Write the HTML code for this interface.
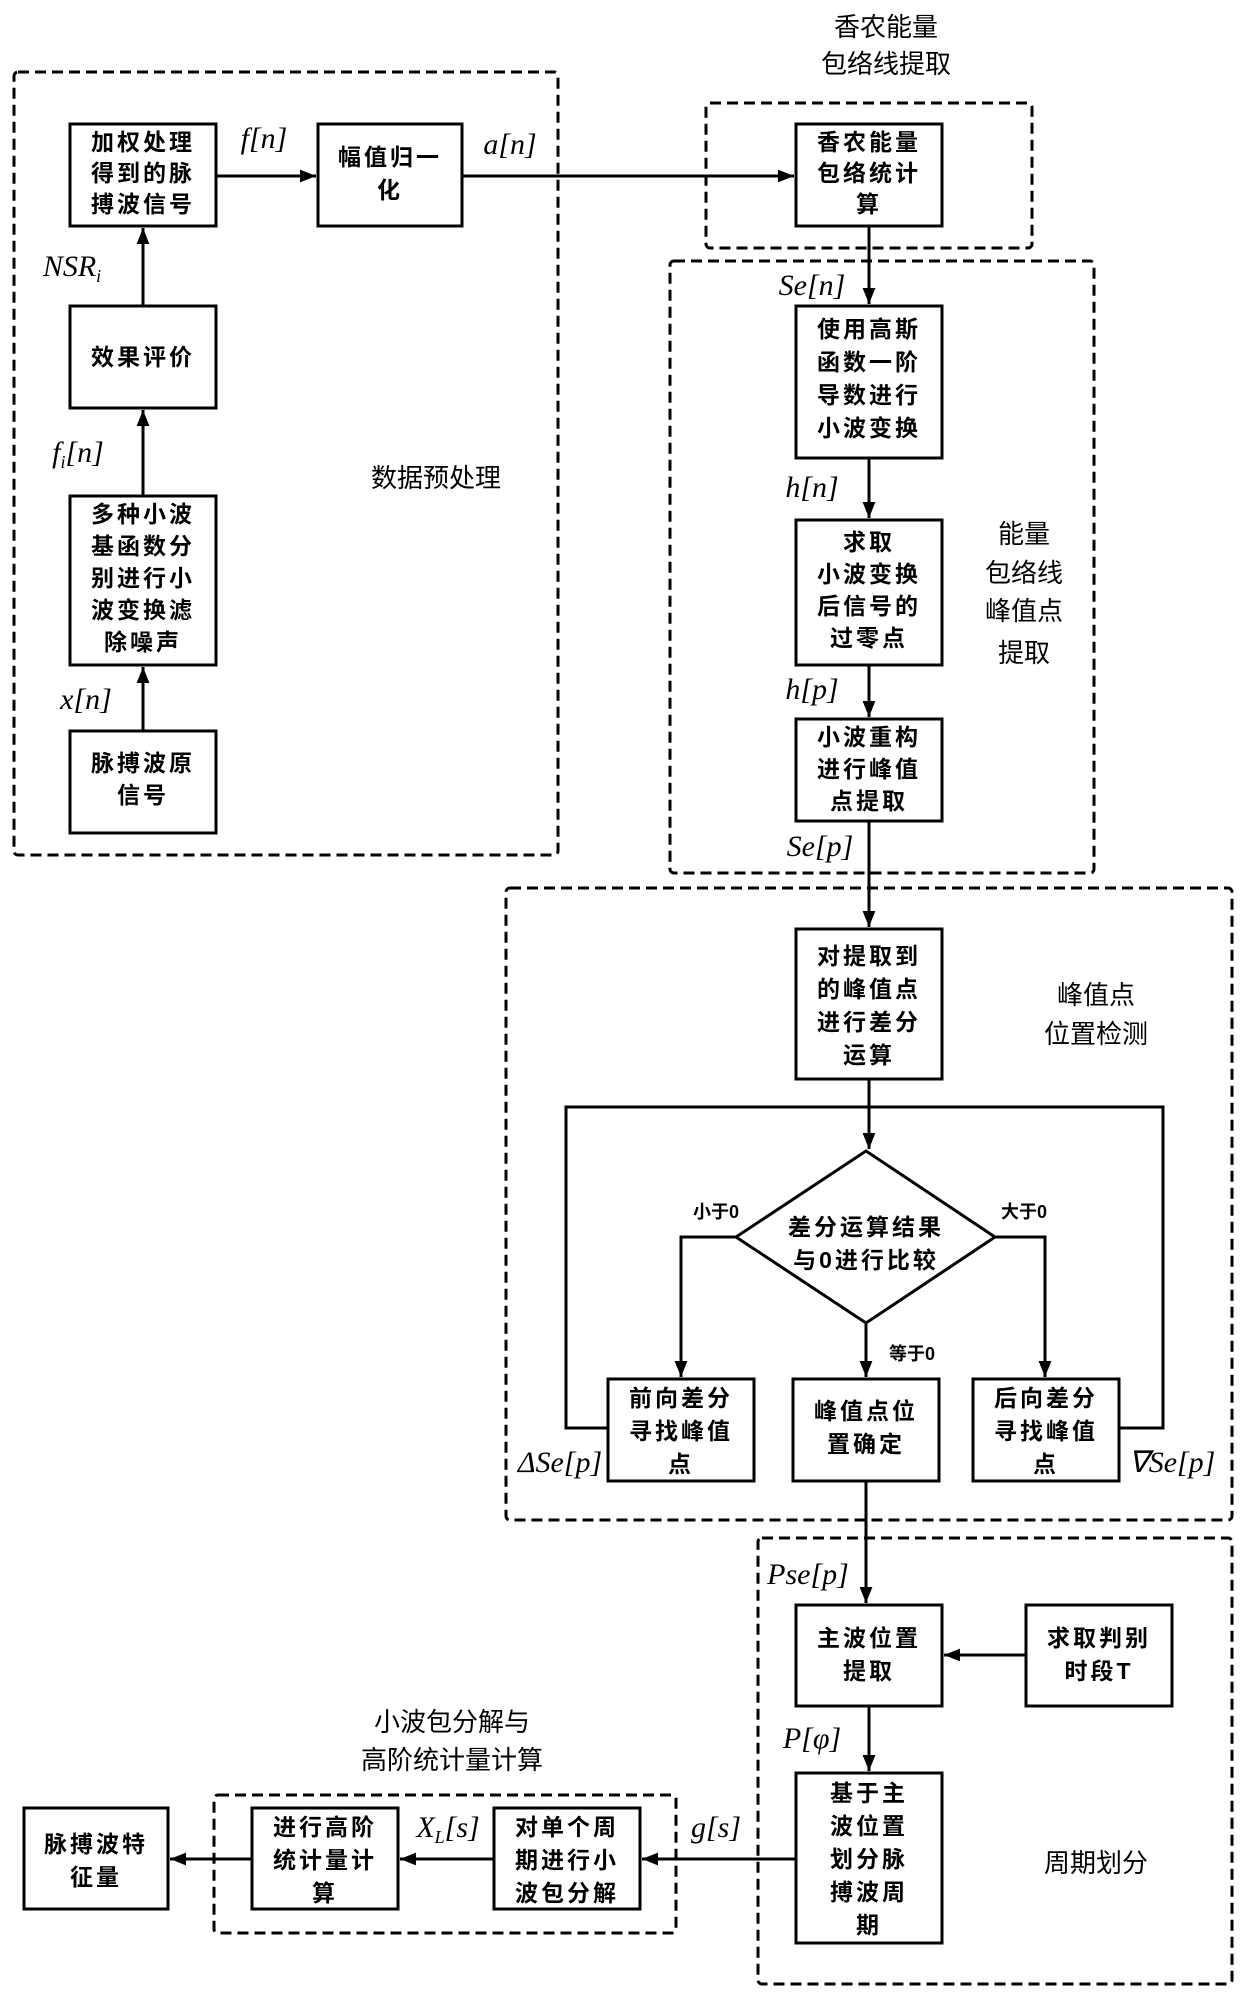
<!DOCTYPE html>
<html><head><meta charset="utf-8"><style>
html,body{margin:0;padding:0;background:#fff;}
svg{display:block;}
.b{font-family:"Liberation Sans","Noto Sans CJK SC",sans-serif;font-weight:bold;font-size:23px;letter-spacing:3px;fill:#000;text-anchor:middle;}
.t{font-family:"Liberation Sans","Noto Sans CJK SC",sans-serif;font-size:26px;fill:#000;text-anchor:middle;}
.s{font-family:"Liberation Sans","Noto Sans CJK SC",sans-serif;font-weight:bold;font-size:18px;fill:#000;text-anchor:middle;}
.m{font-family:"Liberation Serif",serif;font-style:italic;font-size:30px;fill:#000;text-anchor:middle;}
</style></head><body>
<svg width="1240" height="1994" viewBox="0 0 1240 1994" xmlns="http://www.w3.org/2000/svg">
<defs><marker id="a" viewBox="0 0 10 10" refX="10" refY="5" markerWidth="7" markerHeight="7" orient="auto" markerUnits="userSpaceOnUse"><path d="M0,0 L10,5 L0,10 z" fill="#000"/></marker>
<marker id="ar" viewBox="0 0 10 10" refX="10" refY="5" markerWidth="16" markerHeight="16" orient="auto" markerUnits="userSpaceOnUse"><path d="M0,1 L10,5 L0,9 z" fill="#000"/></marker></defs>
<g fill="none" stroke="#000" stroke-width="3" stroke-dasharray="11 6">
<rect x="14" y="72" width="544" height="783" rx="4"/>
<rect x="706" y="103" width="326" height="145" rx="4"/>
<rect x="670" y="261" width="424" height="612" rx="4"/>
<rect x="506" y="888" width="726" height="632" rx="4"/>
<rect x="758" y="1538" width="474" height="446" rx="4"/>
<rect x="214" y="1795" width="462" height="138" rx="4"/>
</g>
<g fill="#fff" stroke="#000" stroke-width="3">
<rect x="70" y="124" width="146" height="102"/>
<rect x="318" y="124" width="144" height="102"/>
<rect x="796" y="124" width="146" height="102"/>
<rect x="70" y="306" width="146" height="102"/>
<rect x="796" y="306" width="146" height="152"/>
<rect x="70" y="496" width="146" height="169"/>
<rect x="796" y="520" width="146" height="145"/>
<rect x="796" y="719" width="146" height="102"/>
<rect x="70" y="731" width="146" height="102"/>
<rect x="796" y="929" width="146" height="150"/>
<rect x="608" y="1379" width="146" height="102"/>
<rect x="793" y="1379" width="146" height="102"/>
<rect x="973" y="1379" width="146" height="102"/>
<rect x="796" y="1605" width="146" height="101"/>
<rect x="1026" y="1605" width="146" height="101"/>
<rect x="796" y="1773" width="146" height="170"/>
<rect x="494" y="1808" width="146" height="101"/>
<rect x="252" y="1808" width="146" height="101"/>
<rect x="24" y="1808" width="144" height="101"/>
<polygon points="866,1151 995,1237 866,1323 736,1237"/>
</g>
<g fill="none" stroke="#000" stroke-width="3">
<line x1="216" y1="176" x2="316" y2="176" marker-end="url(#ar)"/>
<line x1="462" y1="176" x2="794" y2="176" marker-end="url(#ar)"/>
<line x1="143" y1="306" x2="143" y2="228" marker-end="url(#ar)"/>
<line x1="143" y1="496" x2="143" y2="410" marker-end="url(#ar)"/>
<line x1="143" y1="731" x2="143" y2="667" marker-end="url(#ar)"/>
<line x1="869" y1="226" x2="869" y2="304" marker-end="url(#ar)"/>
<line x1="869" y1="458" x2="869" y2="518" marker-end="url(#ar)"/>
<line x1="869" y1="665" x2="869" y2="717" marker-end="url(#ar)"/>
<line x1="869" y1="821" x2="869" y2="927" marker-end="url(#ar)"/>
<line x1="869" y1="1079" x2="869" y2="1149" marker-end="url(#ar)"/>
<polyline points="608,1428 566,1428 566,1107 1163,1107 1163,1428 1119,1428"/>
<polyline points="736,1237 681,1237 681,1377" marker-end="url(#ar)"/>
<polyline points="995,1237 1045,1237 1045,1377" marker-end="url(#ar)"/>
<line x1="866" y1="1323" x2="866" y2="1377" marker-end="url(#ar)"/>
<line x1="866" y1="1481" x2="866" y2="1603" marker-end="url(#ar)"/>
<line x1="1026" y1="1655" x2="944" y2="1655" marker-end="url(#ar)"/>
<line x1="869" y1="1706" x2="869" y2="1771" marker-end="url(#ar)"/>
<line x1="796" y1="1859" x2="642" y2="1859" marker-end="url(#ar)"/>
<line x1="494" y1="1859" x2="400" y2="1859" marker-end="url(#ar)"/>
<line x1="252" y1="1859" x2="170" y2="1859" marker-end="url(#ar)"/>
</g>
<!-- box texts -->
<g class="b">
<text x="143" y="150">加权处理</text><text x="143" y="181">得到的脉</text><text x="143" y="212">搏波信号</text>
<text x="390" y="165">幅值归一</text><text x="390" y="198">化</text>
<text x="869" y="150">香农能量</text><text x="869" y="181">包络统计</text><text x="869" y="212">算</text>
<text x="143" y="365">效果评价</text>
<text x="869" y="337">使用高斯</text><text x="869" y="370">函数一阶</text><text x="869" y="403">导数进行</text><text x="869" y="436">小波变换</text>
<text x="143" y="522">多种小波</text><text x="143" y="554">基函数分</text><text x="143" y="586">别进行小</text><text x="143" y="618">波变换滤</text><text x="143" y="650">除噪声</text>
<text x="869" y="550">求取</text><text x="869" y="582">小波变换</text><text x="869" y="614">后信号的</text><text x="869" y="646">过零点</text>
<text x="869" y="745">小波重构</text><text x="869" y="777">进行峰值</text><text x="869" y="809">点提取</text>
<text x="143" y="771">脉搏波原</text><text x="143" y="803">信号</text>
<text x="869" y="964">对提取到</text><text x="869" y="997">的峰值点</text><text x="869" y="1030">进行差分</text><text x="869" y="1063">运算</text>
<text x="866" y="1235">差分运算结果</text><text x="866" y="1268">与0进行比较</text>
<text x="681" y="1406">前向差分</text><text x="681" y="1439">寻找峰值</text><text x="681" y="1472">点</text>
<text x="866" y="1419">峰值点位</text><text x="866" y="1452">置确定</text>
<text x="1046" y="1406">后向差分</text><text x="1046" y="1439">寻找峰值</text><text x="1046" y="1472">点</text>
<text x="869" y="1646">主波位置</text><text x="869" y="1679">提取</text>
<text x="1099" y="1646">求取判别</text><text x="1099" y="1679">时段T</text>
<text x="869" y="1801">基于主</text><text x="869" y="1834">波位置</text><text x="869" y="1867">划分脉</text><text x="869" y="1900">搏波周</text><text x="869" y="1933">期</text>
<text x="567" y="1835">对单个周</text><text x="567" y="1868">期进行小</text><text x="567" y="1901">波包分解</text>
<text x="325" y="1835">进行高阶</text><text x="325" y="1868">统计量计</text><text x="325" y="1901">算</text>
<text x="96" y="1852">脉搏波特</text><text x="96" y="1885">征量</text>
</g>
<g class="s">
<text x="716" y="1218">小于0</text><text x="1024" y="1218">大于0</text><text x="912" y="1360">等于0</text>
</g>
<g class="t">
<text x="886" y="36">香农能量</text><text x="886" y="73">包络线提取</text>
<text x="436" y="487">数据预处理</text>
<text x="1024" y="543">能量</text><text x="1024" y="582">包络线</text><text x="1024" y="620">峰值点</text><text x="1024" y="662">提取</text>
<text x="1096" y="1004">峰值点</text><text x="1096" y="1043">位置检测</text>
<text x="452" y="1731">小波包分解与</text><text x="452" y="1769">高阶统计量计算</text>
<text x="1096" y="1872">周期划分</text>
</g>
<g class="m">
<text x="264" y="148">f[n]</text>
<text x="510" y="154">a[n]</text>
<text x="72" y="276">NSR<tspan font-size="18" dy="6">i</tspan></text>
<text x="78" y="462">f<tspan font-size="18" dy="6">i</tspan><tspan dy="-6">[n]</tspan></text>
<text x="86" y="709">x[n]</text>
<text x="812" y="295">Se[n]</text>
<text x="812" y="497">h[n]</text>
<text x="812" y="699">h[p]</text>
<text x="820" y="856">Se[p]</text>
<text x="560" y="1472">ΔSe[p]</text>
<text x="1172" y="1472">∇Se[p]</text>
<text x="808" y="1584">Pse[p]</text>
<text x="812" y="1748">P[φ]</text>
<text x="716" y="1837">g[s]</text>
<text x="448" y="1837">X<tspan font-size="18" dy="6">L</tspan><tspan dy="-6">[s]</tspan></text>
</g>
</svg>
</body></html>
